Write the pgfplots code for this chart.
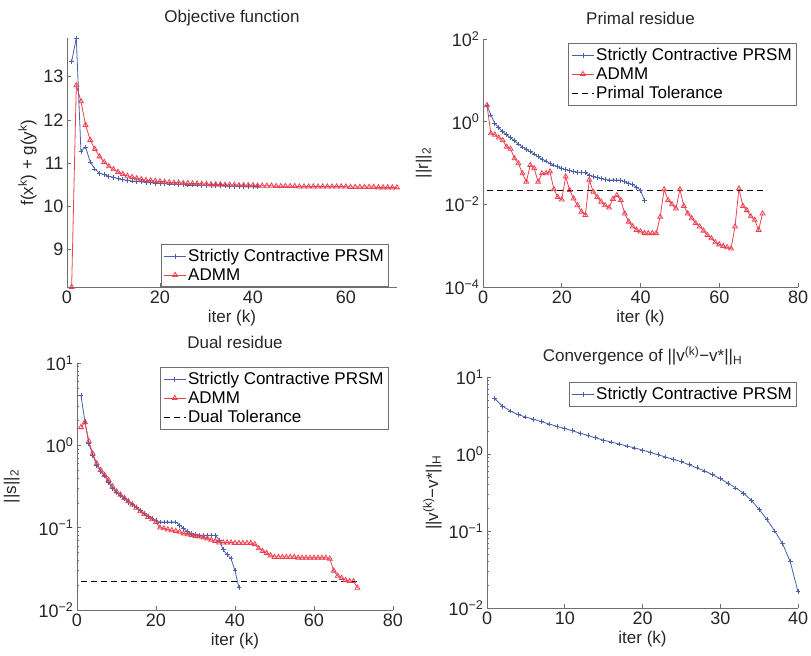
\documentclass[border=0pt]{standalone}
\usepackage{fontspec}
\setmainfont{Liberation Sans}
\usepackage{pgfplots}
\pgfplotsset{compat=1.18}

\definecolor{mblue}{RGB}{75,95,170}
\definecolor{mred}{RGB}{235,65,80}
\definecolor{axgray}{RGB}{110,110,110}

\newcommand{\ticksz}{\fontsize{18bp}{20bp}\selectfont}
\newcommand{\labsz}{\fontsize{17bp}{19bp}\selectfont}

\pgfplotsset{
  mat/.style={
    scale only axis,
    axis x line*=bottom, axis y line*=left,
    tick align=inside, major tick length=4bp, minor tick length=2bp,
    axis line style={draw=axgray, line width=0.7bp},
    every tick/.style={draw=axgray, line width=0.6bp},
    tick label style={font=\ticksz, text=black!85},
    label style={font=\labsz, text=black!85},
    title style={font=\labsz, text=black!85, yshift=5bp},
    legend style={font=\labsz, draw=axgray, line width=0.6bp, inner xsep=3bp, inner ysep=3bp,
      row sep=1.5bp, legend cell align=left, fill=white},
    legend image code/.code={\draw[mark repeat=2,mark phase=2]
      plot coordinates {(0cm,0cm) (0.38cm,0cm) (0.76cm,0cm)};},
    /pgf/number format/assume math mode=true,
    xtick pos=bottom, ytick pos=left,
  },
  prsm/.style={mblue, line width=0.8bp, mark=+, mark size=2.4bp},
  admm/.style={mred, line width=0.8bp, mark=triangle, mark size=2.8bp},
  tol/.style={black, line width=1.1bp, dash pattern=on 6bp off 4bp},
}

\begin{document}
\begin{tikzpicture}[x=1bp,y=1bp]
\useasboundingbox (0,0) rectangle (811,-656);

% ---------- objective function
\begin{axis}[mat, width=330bp, height=249bp, at={(67bp,-287bp)}, anchor=south west,
  xmin=0, xmax=71, ymin=8.12, ymax=13.9,
  xtick={0,20,40,60}, ytick={9,10,11,12,13},
  title={Objective function}, title style={yshift=-3bp}, xlabel={iter (k)},
  ylabel={f(x\textsuperscript{k}) + g(y\textsuperscript{k})},
  legend style={at={(0.976,0)}, anchor=south east}]
\addplot[prsm] coordinates {(1,13.35)(2,13.90)(3,11.27)(4,11.37)(5,11.02)(6,10.86)(7,10.76)(8,10.73)(9,10.69)(10,10.67)
(11,10.63)(12,10.61)(13,10.60)(14,10.58)(15,10.57)(16,10.56)(17,10.55)(18,10.54)(19,10.53)(20,10.52)
(21,10.52)(22,10.51)(23,10.51)(24,10.50)(25,10.50)(26,10.49)(27,10.49)(28,10.49)(29,10.48)(30,10.48)
(31,10.48)(32,10.47)(33,10.47)(34,10.47)(35,10.46)(36,10.46)(37,10.46)(38,10.45)(39,10.45)(40,10.45)(41,10.45)};
\addplot[admm] coordinates {(1,8.12)(2,12.80)(3,12.43)(4,11.88)(5,11.53)(6,11.32)(7,11.15)(8,11.02)(9,10.92)(10,10.85)
(11,10.79)(12,10.74)(13,10.70)(14,10.67)(15,10.64)(16,10.62)(17,10.60)(18,10.59)(19,10.58)(20,10.57)
(21,10.56)(22,10.55)(23,10.54)(24,10.54)(25,10.53)(26,10.53)(27,10.52)(28,10.52)(29,10.51)(30,10.51)
(31,10.50)(32,10.50)(33,10.50)(34,10.49)(35,10.49)(36,10.49)(37,10.48)(38,10.48)(39,10.48)(40,10.48)
(41,10.47)(42,10.47)(43,10.47)(44,10.47)(45,10.46)(46,10.46)(47,10.46)(48,10.46)(49,10.46)(50,10.45)
(51,10.45)(52,10.45)(53,10.45)(54,10.45)(55,10.45)(56,10.45)(57,10.45)(58,10.45)(59,10.45)(60,10.45)
(61,10.44)(62,10.44)(63,10.44)(64,10.44)(65,10.44)(66,10.44)(67,10.43)(68,10.43)(69,10.43)(70,10.43)(71,10.43)};
\legend{Strictly Contractive PRSM, ADMM}
\end{axis}

% ---------- primal residue
\begin{axis}[mat, width=315bp, height=248bp, at={(483bp,-287bp)}, anchor=south west,
  ymode=log, xmin=0, xmax=80, ymin=1e-4, ymax=1e2,
  xtick={0,20,40,60,80}, ytick={1e-4,1e-2,1,1e2},
  yticklabels={{10\textsuperscript{−4}},{10\textsuperscript{−2}},{10\textsuperscript{0}},{10\textsuperscript{2}}},
  title={Primal residue}, xlabel={iter (k)}, ylabel={||r||\textsubscript{2}},
  ylabel style={yshift=6bp},
  legend style={at={(0.997,0.984)}, anchor=north east}]
\addplot[prsm] coordinates {(1,2.51)(2,1.45)(3,0.91)(4,0.71)(5,0.575)(6,0.479)(7,0.407)(8,0.347)(9,0.288)(10,0.245)
(11,0.214)(12,0.186)(13,0.166)(14,0.141)(15,0.123)(16,0.112)(17,0.098)(18,0.089)(19,0.081)(20,0.074)
(21,0.069)(22,0.065)(23,0.062)(24,0.060)(25,0.059)(26,0.058)(27,0.051)(28,0.047)(29,0.044)(30,0.042)
(31,0.040)(32,0.039)(33,0.039)(34,0.039)(35,0.038)(36,0.035)(37,0.032)(38,0.030)(39,0.026)(40,0.022)(41,0.0126)};
\addplot[admm] coordinates {(1,2.5)(2,0.52)(3,0.48)(4,0.41)(5,0.355)(6,0.245)(7,0.219)(8,0.129)(9,0.098)(10,0.056)
(11,0.035)(12,0.089)(13,0.074)(14,0.035)(15,0.056)(16,0.056)(17,0.062)(18,0.023)(19,0.015)(20,0.013)
(21,0.047)(22,0.022)(23,0.0138)(24,0.0095)(25,0.0066)(26,0.0055)(27,0.039)(28,0.020)(29,0.015)(30,0.0115)
(31,0.0095)(32,0.0083)(33,0.0135)(34,0.0166)(35,0.0126)(36,0.006)(37,0.0038)(38,0.0029)(39,0.0024)(40,0.0022)
(41,0.002)(42,0.002)(43,0.002)(44,0.002)(45,0.005)(46,0.023)(47,0.0126)(48,0.010)(49,0.0079)(50,0.023)
(51,0.0091)(52,0.006)(53,0.0046)(54,0.0035)(55,0.0029)(56,0.0023)(57,0.0018)(58,0.0015)(59,0.0012)(60,0.00107)
(61,0.00098)(62,0.00091)(63,0.00085)(64,0.0029)(65,0.024)(66,0.0091)(67,0.0072)(68,0.0051)(69,0.0042)(70,0.0024)(71,0.006)};
\addplot[tol] coordinates {(1,0.022)(71,0.022)};
\legend{Strictly Contractive PRSM, ADMM, Primal Tolerance}
\end{axis}

% ---------- dual residue
\begin{axis}[mat, width=316bp, height=247bp, at={(77bp,-610bp)}, anchor=south west,
  ymode=log, xmin=0, xmax=80, ymin=1e-2, ymax=10,
  xtick={0,20,40,60,80}, ytick={1e-2,1e-1,1,10},
  yticklabels={{10\textsuperscript{−2}},{10\textsuperscript{−1}},{10\textsuperscript{0}},{10\textsuperscript{1}}},
  title={Dual residue}, xlabel={iter (k)}, ylabel={||s||\textsubscript{2}},
  ylabel style={yshift=12bp},
  legend style={at={(0.987,0.984)}, anchor=north east}]
\addplot[prsm] coordinates {(1,4.07)(2,1.95)(3,1.05)(4,0.76)(5,0.575)(6,0.479)(7,0.427)(8,0.355)(9,0.302)(10,0.269)
(11,0.245)(12,0.224)(13,0.204)(14,0.191)(15,0.178)(16,0.162)(17,0.148)(18,0.138)(19,0.129)(20,0.123)
(21,0.117)(22,0.117)(23,0.117)(24,0.117)(25,0.117)(26,0.107)(27,0.098)(28,0.089)(29,0.085)(30,0.083)
(31,0.081)(32,0.081)(33,0.081)(34,0.081)(35,0.081)(36,0.071)(37,0.054)(38,0.047)(39,0.042)(40,0.030)(41,0.0186)};
\addplot[admm] coordinates {(1,1.66)(2,1.91)(3,1.12)(4,0.794)(5,0.603)(6,0.501)(7,0.437)(8,0.380)(9,0.316)(10,0.275)
(11,0.251)(12,0.229)(13,0.209)(14,0.191)(15,0.174)(16,0.158)(17,0.145)(18,0.135)(19,0.126)(20,0.117)
(21,0.100)(22,0.098)(23,0.095)(24,0.093)(25,0.091)(26,0.089)(27,0.085)(28,0.083)(29,0.081)(30,0.079)
(31,0.078)(32,0.076)(33,0.074)(34,0.071)(35,0.069)(36,0.066)(37,0.066)(38,0.066)(39,0.066)(40,0.065)
(41,0.065)(42,0.065)(43,0.065)(44,0.065)(45,0.063)(46,0.056)(47,0.052)(48,0.049)(49,0.046)(50,0.044)
(51,0.044)(52,0.044)(53,0.044)(54,0.044)(55,0.044)(56,0.043)(57,0.043)(58,0.043)(59,0.043)(60,0.043)
(61,0.043)(62,0.043)(63,0.043)(64,0.042)(65,0.030)(66,0.026)(67,0.0245)(68,0.023)(69,0.0224)(70,0.0224)(71,0.0186)};
\addplot[tol] coordinates {(1,0.022)(71,0.022)};
\legend{Strictly Contractive PRSM, ADMM, Dual Tolerance}
\end{axis}

% ---------- convergence of ||v-v*||_H
\begin{axis}[mat, width=311bp, height=231bp, at={(487bp,-608bp)}, anchor=south west,
  ymode=log, xmin=0, xmax=40, ymin=1e-2, ymax=10,
  xtick={0,10,20,30,40}, ytick={1e-2,1e-1,1,10},
  yticklabels={{10\textsuperscript{−2}},{10\textsuperscript{−1}},{10\textsuperscript{0}},{10\textsuperscript{1}}},
  title={Convergence of ||v\textsuperscript{(k)}−v*||\textsubscript{H}}, title style={yshift=-3bp},
  xlabel={iter (k)},
  ylabel={||v\textsuperscript{(k)}−v*||\textsubscript{H}},
  legend style={at={(0.997,0.978)}, anchor=north east}]
\addplot[prsm] coordinates {(1,5.25)(2,4.17)(3,3.63)(4,3.24)(5,3.02)(6,2.82)(7,2.63)(8,2.45)(9,2.29)(10,2.14)
(11,2.00)(12,1.86)(13,1.74)(14,1.62)(15,1.51)(16,1.43)(17,1.35)(18,1.27)(19,1.20)(20,1.12)
(21,1.05)(22,0.977)(23,0.912)(24,0.851)(25,0.794)(26,0.724)(27,0.661)(28,0.603)(29,0.537)(30,0.479)
(31,0.417)(32,0.363)(33,0.309)(34,0.251)(35,0.191)(36,0.141)(37,0.100)(38,0.069)(39,0.040)(40,0.0162)};
\legend{Strictly Contractive PRSM}
\end{axis}
\end{tikzpicture}
\end{document}
